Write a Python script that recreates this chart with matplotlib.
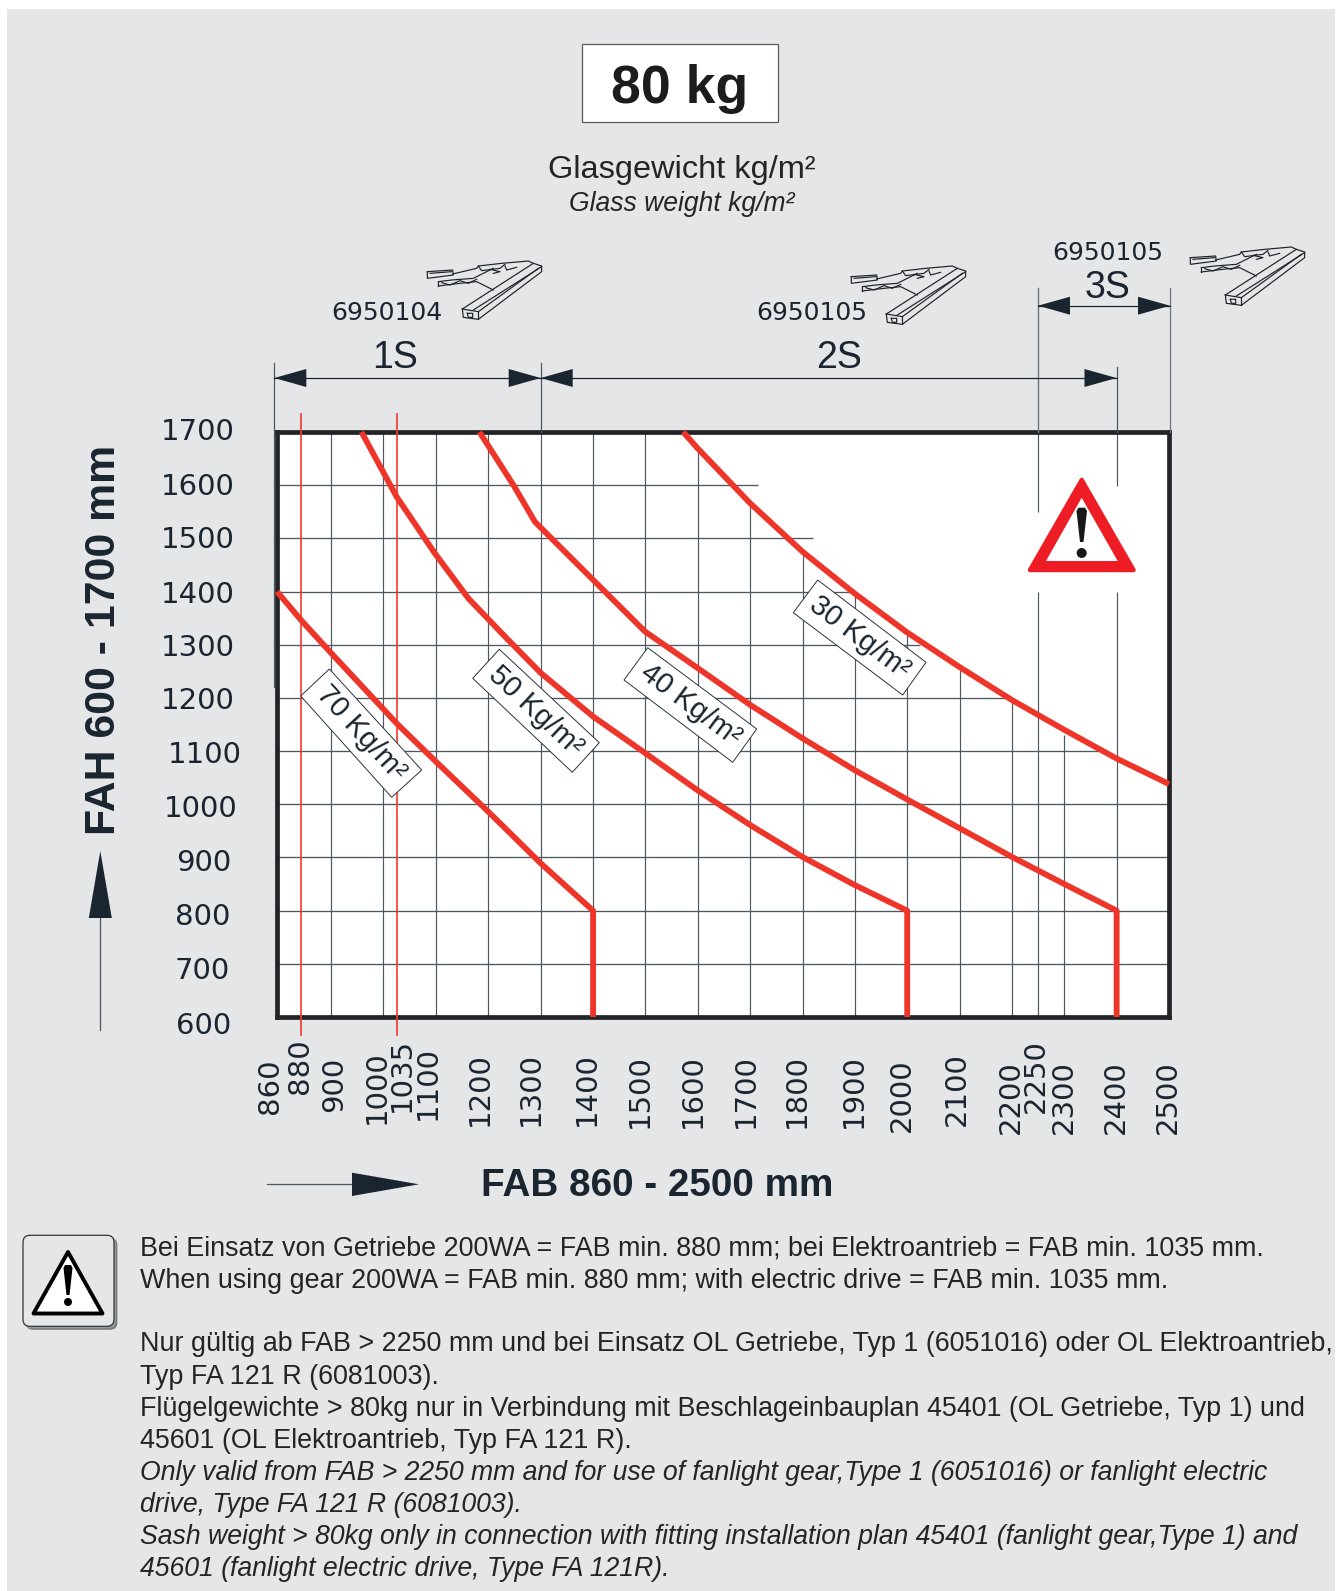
import numpy as np
import matplotlib
matplotlib.use('Agg')
import matplotlib.pyplot as plt
from matplotlib.patches import Polygon, Rectangle, FancyBboxPatch, Circle
from matplotlib.transforms import Affine2D

W, H = 1336, 1591
DARK = '#1a2530'
RED = '#ee3529'
GRID = '#4d575f'
BG = '#e5e6e8'
SANS = 'Liberation Sans'

# FAB / FAH values
x_ticks = [860, 880, 900, 1000, 1035, 1100, 1200, 1300, 1400, 1500, 1600, 1700, 1800,
           1900, 2000, 2100, 2200, 2250, 2300, 2400, 2500]
y_ticks = [600, 700, 800, 900, 1000, 1100, 1200, 1300, 1400, 1500, 1600, 1700]

fab_70 = [860, 880, 900, 1035, 1100, 1200, 1300, 1400, 1400]
fah_70 = [1400, 1347, 1284, 1152, 1080, 986, 889, 800, 600]
fab_50 = [958, 1035, 1098, 1162, 1235, 1300, 1400, 1500, 1600, 1700, 1800, 1900, 2000, 2000]
fah_50 = [1700, 1578, 1472, 1387, 1312, 1247, 1165, 1096, 1026, 961, 901, 848, 800, 600]
fab_40 = [1183, 1248, 1289, 1400, 1499, 1600, 1700, 1800, 1900, 2000, 2100, 2200, 2300, 2400, 2400]
fah_40 = [1700, 1600, 1531, 1422, 1325, 1256, 1187, 1124, 1064, 1009, 955, 901, 850, 800, 600]
fab_30 = [1572, 1600, 1700, 1800, 1900, 2000, 2100, 2200, 2250, 2300, 2400, 2500]
fah_30 = [1700, 1669, 1566, 1475, 1396, 1323, 1258, 1196, 1168, 1140, 1086, 1038]

# the axis of the drawing is not even at the low end
scale_vals = [860, 880, 900, 1000, 1035, 1100, 2500]
scale_px = [277, 300.7, 331.3, 383.3, 396.7, 436, 1169]

# grid lines stop near the 30 kg curve
v_grid = [900, 1000, 1100, 1200, 1300, 1400, 1500, 1600, 1700, 1800, 1900, 2000, 2100, 2200, 2300]
v_grid_top = [1700, 1700, 1700, 1700, 1700, 1700, 1700, 1662, 1563, 1474, 1394, 1318, 1252, 1192, 1130]
h_grid = [700, 800, 900, 1000, 1100, 1200, 1300, 1400, 1500, 1600]
h_grid_end = [2500, 2500, 2500, 2500, 2370, 2190, 2025, 1897, 1820, 1715]

# the two long lines break around the warning sign
gap_x = [2250, 2250, 2400, 2400]
gap_from = [600, 1550, 600, 1599]
gap_to = [1399, 1700, 1399, 1700]

# label layout, pixels in the picture
x_label_center = [270, 300.5, 334, 377, 402, 428, 480, 531, 587, 640, 692.7, 745.5, 797, 854,
                  902, 957, 1010.7, 1036, 1064, 1115.6, 1167.6]
x_label_bottom = [1113.5, 1094.5, 1111.5, 1123.5, 1111.5, 1120.5, 1126.5, 1126.5, 1126.5, 1127.5, 1127.5, 1127.5, 1127.5,
                  1127.5, 1131.5, 1126.5, 1134, 1113, 1134, 1134, 1134]
y_label_right = [231, 230, 230, 231, 238, 242, 235, 235, 235, 235, 235, 235]
y_label_shift = [8.5, 7.5, 6.5, 5.5, 5, 3.5, 3.5, 3.5, 3.5, 2, 1.5, 0.5]

note_lines = [
    ('Bei Einsatz von Getriebe 200WA = FAB min. 880 mm; bei Elektroantrieb = FAB min. 1035 mm.', 1248.5, 'normal'),
    ('When using gear 200WA = FAB min. 880 mm; with electric drive = FAB min. 1035 mm.', 1280.5, 'normal'),
    ('Nur gültig ab FAB > 2250 mm und bei Einsatz OL Getriebe, Typ 1 (6051016) oder OL Elektroantrieb,', 1344, 'normal'),
    ('Typ FA 121 R (6081003).', 1376.5, 'normal'),
    ('Flügelgewichte > 80kg nur in Verbindung mit Beschlageinbauplan 45401 (OL Getriebe, Typ 1) und', 1408.5, 'normal'),
    ('45601 (OL Elektroantrieb, Typ FA 121 R).', 1440.5, 'normal'),
    ('Only valid from FAB > 2250 mm and for use of fanlight gear,Type 1 (6051016) or fanlight electric', 1472.5, 'italic'),
    ('drive, Type FA 121 R (6081003).', 1504.5, 'italic'),
    ('Sash weight > 80kg only in connection with fitting installation plan 45401 (fanlight gear,Type 1) and', 1536.5, 'italic'),
    ('45601 (fanlight electric drive, Type FA 121R).', 1568.5, 'italic'),
]


def forward(v):
    return np.interp(v, scale_vals, scale_px)


def inverse(p):
    return np.interp(p, scale_px, scale_vals)


fig = plt.figure(figsize=(W / 100, H / 100), dpi=100, facecolor='white')
ax = fig.add_axes([277 / W, (H - 1017) / H, (1169 - 277) / W, (1017 - 432) / H])
ax.set_xscale('function', functions=(forward, inverse))
ax.set_xlim(860, 2500)
ax.set_ylim(600, 1700)
ax.set_facecolor('white')
for s in ax.spines.values():
    s.set_linewidth(3.4)
    s.set_color('#222428')

# pixels of the picture, y going down
px = Affine2D().scale(1, -1).translate(0, H)


def pline(xs, ys, lw=0.75, color=GRID, z=3, **kw):
    ax.plot(xs, ys, transform=px, lw=lw, color=color, zorder=z, clip_on=False, **kw)


def ptext(x, y, s, size, color=DARK, z=8, **kw):
    kw.setdefault('family', SANS)
    kw.setdefault('ha', 'center')
    kw.setdefault('va', 'center')
    ax.text(x, y, s, transform=px, fontsize=size, color=color, zorder=z, clip_on=False, **kw)


def ppoly(pts, z=4, **kw):
    ax.add_patch(Polygon(pts, closed=True, transform=px, zorder=z, clip_on=False, **kw))


# background panel
fig.patches.append(Rectangle((7, 0), W - 8, H - 9, transform=None, facecolor=BG, edgecolor='none', zorder=-5))

# grid
ax.vlines(v_grid, 600, v_grid_top, color=GRID, lw=0.85, zorder=1)
ax.hlines(h_grid, 860, h_grid_end, color=GRID, lw=0.95, zorder=1)
ax.vlines(gap_x, gap_from, gap_to, color=GRID, lw=0.85, zorder=1)

# thin limit lines for gear / electric drive
for v in [880, 1035]:
    ax.plot([v, v], [600, 1700], color='#f0392d', lw=1.2, zorder=3)
    ax.plot([forward(v)] * 2, [414, 432], transform=px, color='#f0392d', lw=1.2, zorder=3, clip_on=False)
    ax.plot([forward(v)] * 2, [1017, 1035], transform=px, color='#f0392d', lw=1.2, zorder=3, clip_on=False)

# weight curves
for xs, ys in [(fab_70, fah_70), (fab_50, fah_50), (fab_40, fah_40), (fab_30, fah_30)]:
    ax.plot(xs, ys, color=RED, lw=4.2, zorder=6, clip_on=False, solid_joinstyle='round', solid_capstyle='butt')

# curve labels
label_boxes = [
    ('70 Kg/m²', [(329.3, 669), (421.7, 770), (391.7, 797.3), (300.7, 696)], -47.5),
    ('50 Kg/m²', [(499.3, 649.3), (599.3, 742.7), (572.3, 772.3), (472.7, 678.3)], -43),
    ('40 Kg/m²', [(647.7, 647.7), (756.7, 729), (732.7, 762.3), (624, 680)], -36.7),
    ('30 Kg/m²', [(817.7, 580), (926, 662.3), (902.7, 695), (793.3, 612.7)], -37),
]
for s, pts, ang in label_boxes:
    ppoly(pts, z=4, facecolor='white', edgecolor='#2a343c', lw=0.7)
    c = np.mean(pts, axis=0)
    ptext(c[0], c[1], s, 21, rotation=ang, rotation_mode='anchor', z=5)

# ticks
ax.set_xticks(x_ticks, [str(v) for v in x_ticks], minor=False)
ax.set_yticks(y_ticks, [str(v) for v in y_ticks])
ax.minorticks_off()
ax.tick_params(length=0, pad=0)
for lab, v, cx, bot in zip(ax.get_xticklabels(), x_ticks, x_label_center, x_label_bottom):
    lab.set(rotation=90, ha='center', va='bottom', fontsize=21, color=DARK, family='DejaVu Sans')
    lab.set_transform(lab.get_transform() + Affine2D().translate(cx - forward(v), -(bot - 1017)))
for lab, r, dy in zip(ax.get_yticklabels(), y_label_right, y_label_shift):
    lab.set(ha='right', va='center', fontsize=21, color=DARK, family='DejaVu Sans')
    lab.set_transform(lab.get_transform() + Affine2D().translate(r - 277, -dy))

# extension lines above the frame
pline([274.3, 274.3], [363, 687], lw=0.9)
pline([540.7, 540.7], [363, 432], lw=0.9)
pline([1038, 1038], [288, 432], lw=1.0, color='#6d767d')
pline([1116.5, 1116.5], [367, 432], lw=0.9)
pline([1170, 1170], [288, 432], lw=0.9, color='#6d767d')


def dim_arrow(x0, x1, y):
    pline([x0, x1], [y, y], lw=0.9, color=DARK)
    ppoly([(x0, y), (x0 + 32, y - 9), (x0 + 32, y + 9)], z=7, facecolor=DARK, edgecolor='none')
    ppoly([(x1, y), (x1 - 32, y - 9), (x1 - 32, y + 9)], z=7, facecolor=DARK, edgecolor='none')


dim_arrow(274.3, 540.7, 378)
dim_arrow(540.7, 1116.5, 378)
dim_arrow(1038, 1170, 305.7)
ptext(395, 358, '1S', 27)
ptext(838.7, 358, '2S', 27)
ptext(1107.5, 288, '3S', 27)
ptext(387, 312.7, '6950104', 18, family='DejaVu Sans')
ptext(811.5, 312.7, '6950105', 18, family='DejaVu Sans')
ptext(1108, 252.7, '6950105', 18, family='DejaVu Sans')

# little stay arm drawings
icon_lines = [
    [(607, 237), (820, 100), (845, 108), (845, 125), (655, 268), (610, 262), (607, 237)],
    [(640, 240), (845, 110)],
    [(655, 245), (655, 268)],
    [(607, 237), (655, 245), (835, 115)],
    [(502, 125), (578, 120), (580, 135), (502, 145), (502, 125)],
    [(510, 130), (575, 125)],
    [(578, 132), (650, 115), (655, 108), (725, 100), (805, 93), (820, 100)],
    [(535, 155), (575, 150), (640, 145), (700, 115)],
    [(535, 168), (600, 160), (650, 155), (700, 180)],
    [(535, 155), (535, 168)],
    [(545, 158), (570, 165), (600, 152), (625, 160), (650, 148)],
    [(655, 108), (665, 122), (720, 115), (735, 103)],
    [(735, 108), (740, 120), (770, 112)],
    [(690, 118), (720, 125), (700, 130)],
    [(622, 250), (638, 250), (638, 262), (625, 262), (622, 250)],
]
for dx, dy in [(0, 0), (424, 5), (763, -14)]:
    for seg in icon_lines:
        pts = np.array(seg, dtype=float)
        pline(pts[:, 0] / 3 + 260 + dx, pts[:, 1] / 3 + 230 + dy, lw=0.85, color='#1c2228')

# title block
ax.add_patch(Rectangle((582.3, 44.3), 196, 78, transform=px, facecolor='white', edgecolor='#5a5a5a', lw=0.9,
                       clip_on=False, zorder=4))
ptext(680, 89, '80 kg', 38.5, color='#1c1c1e', fontweight='bold')
ptext(681.5, 178, 'Glasgewicht kg/m²', 23.4, color='#242426', va='baseline')
ptext(681.5, 211, 'Glass weight kg/m²', 19.1, color='#242426', va='baseline', style='italic')

# axis titles with arrows
ptext(104, 639.5, 'FAH 600 - 1700 mm', 30.8, fontweight='bold', rotation=90)
ptext(657.5, 1186, 'FAB 860 - 2500 mm', 27.8, fontweight='bold')
pline([100.3, 100.3], [918, 1030], lw=0.9)
ppoly([(100.3, 851), (88.8, 918), (111.8, 918)], facecolor=DARK, edgecolor='none')
pline([266.7, 352], [1184.3, 1184.3], lw=0.9)
ppoly([(419, 1184.3), (352, 1172.7), (352, 1196)], facecolor=DARK, edgecolor='none')

# red warning triangle in the chart
ppoly([(1081.7, 480), (1030, 570), (1133.5, 570)], z=7, facecolor='#ee1c25', edgecolor='#ee1c25', lw=3.2, joinstyle='round')
ppoly([(1081.7, 497.7), (1046, 561), (1117.7, 561)], z=7, facecolor='white', edgecolor='none')
ppoly([(1076.5, 511), (1078.5, 507.7), (1085, 507.7), (1087, 511), (1083.5, 542), (1080, 542)], z=8,
      facecolor='#18181a', edgecolor='none')
ax.add_patch(Circle((1081.7, 553), 5, transform=px, facecolor='#18181a', edgecolor='none', clip_on=False, zorder=8))

# warning sign beside the notes
for off, col in [(3, '#777a7d'), (1.5, '#9a9da0')]:
    ax.add_patch(FancyBboxPatch((23 + off + 7, 1235.3 + off + 7), 77, 77, boxstyle='round,pad=7,rounding_size=7',
                                transform=px, facecolor=col, edgecolor=col, lw=0.6, clip_on=False, zorder=3))
ax.add_patch(FancyBboxPatch((30, 1242.3), 77, 77, boxstyle='round,pad=7,rounding_size=7', transform=px,
                            facecolor=BG, edgecolor='#333639', lw=0.9, clip_on=False, zorder=4))
ppoly([(68, 1252), (33.5, 1313.5), (102.5, 1313.5)], z=5, facecolor='white', edgecolor='black', lw=2.8, joinstyle='round')
ppoly([(63.5, 1268), (65, 1265), (71, 1265), (72.5, 1268), (69.5, 1295), (66.5, 1295)], z=6, facecolor='black', edgecolor='none')
ax.add_patch(Circle((68, 1302), 4, transform=px, facecolor='black', edgecolor='none', clip_on=False, zorder=6))

# notes
for s, y, st in note_lines:
    ptext(140, y, s, 19.15 if st == 'italic' else 19.4, color='#242426', ha='left', style=st)

fig.savefig('out.png', dpi=100, facecolor='white')
